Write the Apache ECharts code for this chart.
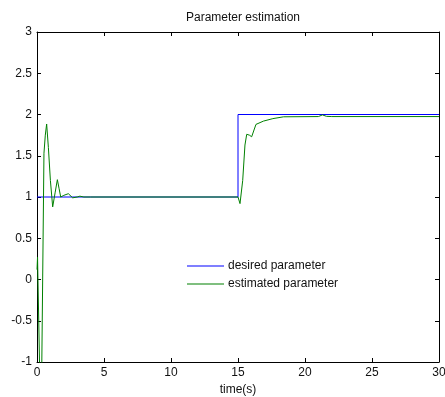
<!DOCTYPE html>
<html>
<head>
<meta charset="utf-8">
<script src="https://cdn.jsdelivr.net/npm/echarts@6/dist/echarts.min.js"></script>
<style>
  html, body { margin: 0; padding: 0; background: #fff; }
  #chart { width: 445px; height: 397px; }
</style>
</head>
<body>
<div id="chart"></div>
<script>
// Reference trajectory: a unit step to 2 at t = 15 s
const desiredTime = [0, 15, 15, 30];
const desiredValue = [1, 1, 2, 2];

// Adaptive estimate of the parameter over time
const estimatedTime = [0, 0.04, 0.2, 0.28, 0.36, 0.52, 0.62, 0.72, 0.85, 1.0, 1.17, 1.35, 1.52, 1.65, 1.77, 2.0, 2.34, 2.66, 3.0, 3.2, 3.5, 4.0,
  15.0, 15.15, 15.35, 15.52, 15.65, 15.85, 16.02, 16.34, 16.9, 17.6, 18.4, 21.0, 21.3, 21.6, 22.0, 30.0];
const estimatedValue = [0.12, 0.27, -1.1, -1.4, -1.0, 1.53, 1.75, 1.885, 1.6, 1.2, 0.88, 1.05, 1.21, 1.1, 1.0, 1.02, 1.04, 0.99, 1.0, 1.01, 1.0, 1.0,
  1.0, 0.92, 1.2, 1.63, 1.76, 1.75, 1.73, 1.88, 1.92, 1.95, 1.972, 1.975, 1.995, 1.978, 1.975, 1.975];

const seriesNames = ['desired parameter', 'estimated parameter'];
const seriesColors = ['#0000ff', '#008000'];
const xTicks = { min: 0, max: 30, interval: 5 };
const yTicks = { min: -1, max: 3, interval: 0.5 };

const font = 'Liberation Sans, Arial, sans-serif';

function pairs(xs, ys) {
  return xs.map((x, i) => [x, ys[i]]);
}

const axisBase = {
  type: 'value',
  axisLine: { show: true, onZero: false, lineStyle: { color: '#000', width: 1 } },
  axisTick: { show: true, inside: true, length: 4, lineStyle: { color: '#000' } },
  splitLine: { show: false },
  axisLabel: { color: '#111', fontSize: 12, fontFamily: font }
};

const chart = echarts.init(document.getElementById('chart'), null, { renderer: 'canvas' });
chart.setOption({
  animation: false,
  backgroundColor: '#fff',
  color: seriesColors,
  title: {
    text: 'Parameter estimation',
    left: 238, top: 7, textAlign: 'center',
    textStyle: { fontSize: 12, fontWeight: 'normal', color: '#111', fontFamily: font }
  },
  legend: {
    orient: 'vertical',
    left: 182, top: 255,
    icon: 'rect',
    itemWidth: 37, itemHeight: 1.2,
    itemGap: 6,
    textStyle: { fontSize: 12, color: '#111', fontFamily: font, padding: [0, 0, 0, -1] },
    data: seriesNames
  },
  grid: { left: 37, top: 32, right: 6, bottom: 35, containLabel: false, outerBoundsMode: 'none' },
  xAxis: [
    Object.assign({}, axisBase, {
      min: xTicks.min, max: xTicks.max, interval: xTicks.interval,
      position: 'bottom',
      name: 'time(s)', nameLocation: 'middle', nameGap: 22,
      nameTextStyle: { fontSize: 12, color: '#111', fontFamily: font },
      axisLabel: Object.assign({}, axisBase.axisLabel, { margin: 5 })
    }),
    Object.assign({}, axisBase, {
      min: xTicks.min, max: xTicks.max, interval: xTicks.interval,
      position: 'top', axisLabel: { show: false }
    })
  ],
  yAxis: [
    Object.assign({}, axisBase, {
      min: yTicks.min, max: yTicks.max, interval: yTicks.interval,
      position: 'left',
      axisLabel: Object.assign({}, axisBase.axisLabel, { margin: 5 })
    }),
    Object.assign({}, axisBase, {
      min: yTicks.min, max: yTicks.max, interval: yTicks.interval,
      position: 'right', axisLabel: { show: false }
    })
  ],
  series: [
    {
      name: seriesNames[0], type: 'line',
      data: pairs(desiredTime, desiredValue),
      showSymbol: false, symbol: 'none',
      color: seriesColors[0],
      lineStyle: { color: seriesColors[0], width: 1 },
      itemStyle: { color: seriesColors[0] },
      z: 2
    },
    {
      name: seriesNames[1], type: 'line',
      data: pairs(estimatedTime, estimatedValue),
      showSymbol: false, symbol: 'none',
      color: seriesColors[1],
      lineStyle: { color: seriesColors[1], width: 1 },
      itemStyle: { color: seriesColors[1] },
      z: 3
    }
  ]
});
</script>
</body>
</html>
